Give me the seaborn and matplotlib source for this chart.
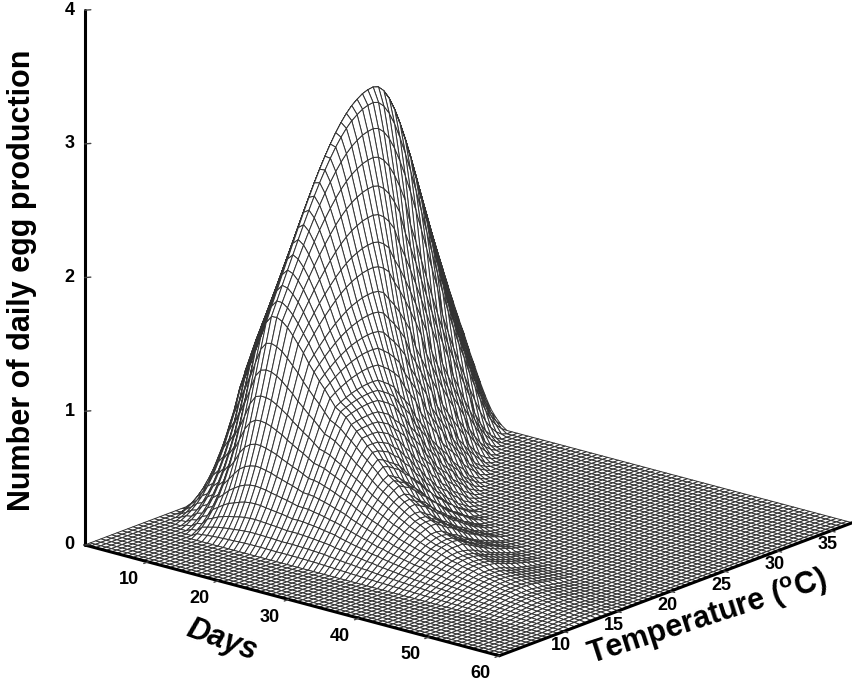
import numpy as np
import seaborn as sns
import matplotlib
matplotlib.use("Agg")
import matplotlib.pyplot as plt
from mpl_toolkits.mplot3d import proj3d

sns.set_style("white")
plt.rcParams['font.family'] = ['Liberation Sans', 'DejaVu Sans']
plt.rcParams['mathtext.fontset'] = 'custom'
plt.rcParams['mathtext.bf'] = 'Liberation Sans:bold'
plt.rcParams['mathtext.rm'] = 'Liberation Sans:bold'

# grid lines of the surface
days = [1 + 59 * i / 78 for i in range(79)]
temps = [4 + 0.5 * i for i in range(67)]

# height of the ridge on each day line
ridge_height = [2.45, 2.50, 2.55, 2.60, 2.64, 2.68, 2.72, 2.76, 2.79, 2.83, 2.86, 2.89,
                2.92, 2.83, 2.66, 2.47, 2.28, 2.09, 1.91, 1.75, 1.59, 1.46,
                1.34, 1.24, 1.14, 1.05, 1.00, .95, .89, .84, .79, .74, .70,
                .66, .62, .58, .55, .52, .49, .46, .43, .41, .38,
                .36, .34, .32, .30, .28, .27, .25, .24, .22, .21,
                .19, .18, .17, .16, .15, .14, .13, .12, .11, .10,
                .10, .09, .08, .08, .07, .06, .06, .05, .05, .04,
                .04, .04, .03, .03, .03, .02]

# temperature line of the ridge on each day line
ridge_line = [54, 53, 52, 51, 50, 49, 48, 47, 46, 45, 44, 43,
              42, 41, 40, 39, 38, 37, 36, 35, 34, 33, 32, 31, 30, 29, 28, 27, 26, 25, 24, 23, 22,
              21, 21, 20, 20, 20, 19, 19, 19, 18, 18, 18, 18, 17, 17, 17, 17, 17,
              16, 16, 16, 16, 16, 16, 15, 15, 15, 15, 15, 15, 15, 15,
              14, 14, 14, 14, 14, 14, 14, 14, 14, 14, 14, 14, 14, 14, 14]

# how much faster the hot side falls on each day line
hot_squeeze = [1.0] * 12 + [
    1.0, 1.01, 1.02, 1.04, 1.05, 1.06, 1.07, 1.08, 1.1, 1.11,
    1.12, 1.13, 1.14, 1.16, 1.17, 1.18, 1.19, 1.2, 1.22, 1.23,
    1.24, 1.25, 1.26, 1.28, 1.29, 1.3, 1.31, 1.32, 1.34, 1.35,
    1.36, 1.37, 1.38, 1.4, 1.41, 1.42, 1.43, 1.44, 1.46, 1.47,
    1.48, 1.49, 1.5, 1.52, 1.53, 1.54, 1.55, 1.56, 1.58, 1.59,
    1.6, 1.61, 1.62, 1.64, 1.65, 1.66, 1.67, 1.68, 1.7, 1.71,
    1.72, 1.73, 1.74, 1.76, 1.77, 1.78, 1.79]

# temperature line where each day line leaves the floor
onset = [21, 17, 15, 14, 13, 13, 12, 12, 11, 11] + [10] * 69

# lift off the floor per temperature line above the onset
lift = [0, .08, .17, .26, .35, .44, .53, .62, .71, .79, .87, .94, 1.0]

# fall from the ridge towards low temperature, per temperature line
fall_low = [1.0, .998, .993, .984, .973, .958, .940, .919, .895, .869,
            .841, .811, .779, .746, .712, .677, .642, .607, .571, .536,
            .500, .465, .430, .390, .350, .310, .270, .240, .210, .185,
            .160, .140, .120, .105, .090, .077, .066, .056, .047, .040,
            .033, .027, .021, .016, .011]
# fall from the ridge towards high temperature, per half temperature line
fall_high = [1.0, .999, .995, .989, .980, .969, .956, .940, .923, .904,
             .882, .860, .835, .810, .783, .755, .726, .697, .667, .637,
             .607, .576, .546, .516, .487, .458, .430, .402, .375, .350,
             .325, .301, .278, .256, .236, .213, .190, .170, .150, .130,
             .110, .092, .075, .060, .045, .035, .025, .017, .010, .005, 0]

day_ticks = [10, 20, 30, 40, 50, 60]
temp_ticks = [10, 15, 20, 25, 30, 35]
egg_ticks = [0, 1, 2, 3, 4]

Z = np.zeros((len(days), len(temps)))
for i in range(len(days)):
    for j in range(len(temps)):
        up = j - onset[i]
        if up <= 0:
            continue
        n = j - ridge_line[i]
        if n < 0:
            f = fall_low[min(-n, len(fall_low) - 1)]
        else:
            f = fall_high[min(round(2 * n * hot_squeeze[i]), len(fall_high) - 1)]
        Z[i, j] = ridge_height[i] * f * lift[min(up, len(lift) - 1)]

W, H = 853, 683
fig = plt.figure(figsize=(W / 100, H / 100), dpi=100)
S = 927
cx, cy = 456, 279
ax = fig.add_axes([(cx - S / 2) / W, 1 - (cy + S / 2) / H, S / W, S / H], projection="3d")
ax.patch.set_alpha(0)
ax.set_proj_type("ortho")
ax.view_init(elev=18.5, azim=-49.9)
ax.set_box_aspect((542, 548, 564), zoom=1.0)
ax.computed_zorder = False

X, Y = np.meshgrid(days, temps, indexing="ij")
ax.plot_surface(X, Y, Z, rstride=1, cstride=1, color="white", edgecolor="#333333",
                linewidth=0.7, shade=False, antialiased=True, zorder=1)

ax.set_xlim(1, 60, view_margin=0)
ax.set_ylim(4, 37, view_margin=0)
ax.set_zlim(0, 4, view_margin=0)
ax.set_axis_off()

# axis lines
ax.plot([1, 60], [4, 4], [0, 0], color="black", lw=2.2, zorder=5)
ax.plot([60, 60], [4, 37], [0, 0], color="black", lw=2.2, zorder=5)
ax.plot([1, 1], [4, 4], [0, 4], color="black", lw=2.2, zorder=5)

fig.canvas.draw()


def tick_label(x, y, z, s, dx, dy, ha="center"):
    # put a flat text next to a point of the 3d box, offset in pixels
    x2, y2, _ = proj3d.proj_transform(x, y, z, ax.get_proj())
    px, py = ax.transData.transform((x2, y2))
    fig.text((px + dx) / W, (py - dy) / H, s, fontsize=13, fontweight="bold",
             ha=ha, va="center", color="black")


for d in day_ticks:
    ax.plot([d, d], [4, 3.6], [0, 0], color="#444444", lw=1, zorder=5)
    tick_label(d, 4, 0, str(d), -19, 18)
for t in temp_ticks:
    ax.plot([60, 60.6], [t, t], [0, 0], color="#444444", lw=1, zorder=5)
    tick_label(60, t, 0, str(t), -3, 14)
for e in egg_ticks:
    ax.plot([1, 1.4], [4, 4.3], [e, e], color="#444444", lw=1, zorder=5)
    tick_label(1, 4, e, str(e), -10, 0, ha="right")

fig.text(22 / W, 1 - 280 / H, "Number of daily egg production", fontsize=22, fontweight="bold",
         rotation=90, ha="center", va="center", color="black")
fig.text(222 / W, 1 - 640 / H, "Days", fontsize=22, fontweight="bold", style="italic",
         rotation=-20, ha="center", va="center", color="black", rotation_mode="anchor")
fig.text(708 / W, 1 - 618 / H, r"Temperature ($\mathbf{^{o}}$C)", fontsize=22, fontweight="bold",
         rotation=18, ha="center", va="center", color="black", rotation_mode="anchor")

fig.savefig("out.png", dpi=100)
